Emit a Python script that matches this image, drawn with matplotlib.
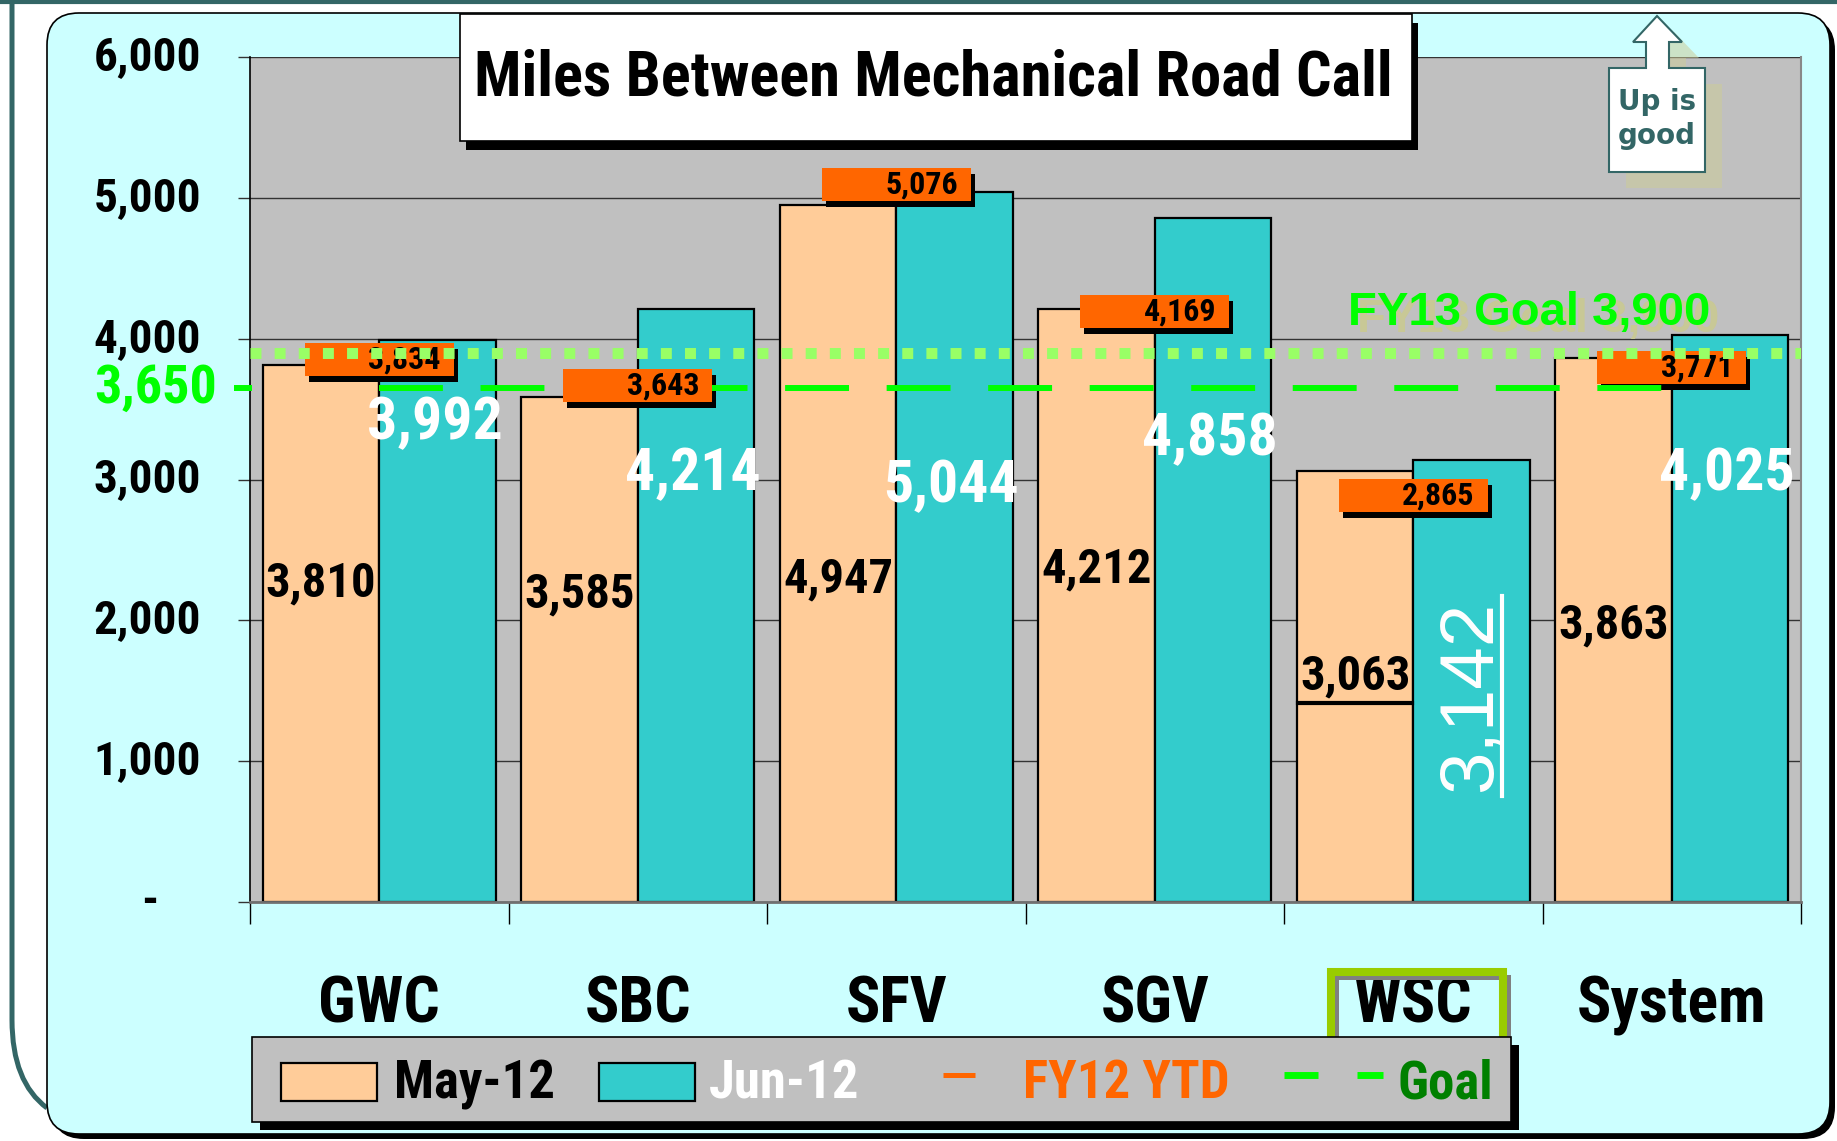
import matplotlib
matplotlib.use('Agg')
import matplotlib.pyplot as plt
import matplotlib.patches as mpatches
import matplotlib.transforms as mtransforms
from matplotlib.path import Path
import numpy as np

W, H = 1837, 1141

categories = ['GWC', 'SBC', 'SFV', 'SGV', 'WSC', 'System']
may_12 = [3810, 3585, 4947, 4212, 3063, 3863]
jun_12 = [3992, 4214, 5044, 4858, 3142, 4025]
fy12_ytd = [3834, 3643, 5076, 4169, 2865, 3771]
goal = [3650, 3650, 3650, 3650, 3650, 3650]
fy13_goal = 3900
yticks = [0, 1000, 2000, 3000, 4000, 5000, 6000]
ytick_labels = ['-', '1,000', '2,000', '3,000', '4,000', '5,000', '6,000']

# heights where the data labels sit (value units)
may_label_y = [2260, 2180, 2290, 2360, 1598, 1960]
jun_label_y = [3400, 3037, 2953, 3286, 1463, 3037]

NARROW = dict(family=['Roboto Condensed', 'DejaVu Sans'])
ARIAL = ['Liberation Sans', 'DejaVu Sans']

teal = '#336666'
may_col = '#FFCC99'
jun_col = '#33CCCC'
ytd_col = '#FF6600'
goal_col = '#00FF00'

fig = plt.figure(figsize=(W / 100, H / 100), dpi=100)
fig.patch.set_facecolor('white')
PX = mtransforms.Affine2D().scale(1, -1).translate(0, H)   # pixel coords, y down


def rbox(x0, y0, x1, y1, r, **kw):
    return mpatches.FancyBboxPatch((x0 + r, y0 + r), x1 - x0 - 2 * r, y1 - y0 - 2 * r,
                                   boxstyle=f'round,pad={r},rounding_size={r}',
                                   transform=PX, **kw)


def rect(x0, y0, x1, y1, **kw):
    return mpatches.Rectangle((x0, y0), x1 - x0, y1 - y0, transform=PX, **kw)


# slide border
fig.add_artist(plt.Line2D([0, W], [1.5, 1.5], transform=PX, color=teal, lw=3, zorder=-3))
p = Path([(12, 0), (12, 1020), (12, 1082), (47, 1108)],
         [Path.MOVETO, Path.LINETO, Path.CURVE3, Path.CURVE3])
fig.add_artist(mpatches.PathPatch(p, transform=PX, fill=False, ec=teal, lw=3.6, zorder=-3))

# cyan panel
fig.add_artist(rbox(52, 18, 1835, 1139, 32, fc='black', ec='none', zorder=-2))
fig.add_artist(rbox(47, 13, 1830, 1134, 32, fc='#CCFFFF', ec='black', lw=1.2, zorder=-1))

# main chart
ax = fig.add_axes([250 / W, 1 - 902 / H, (1801 - 250) / W, (902 - 57) / H])
ax.set_facecolor('#C0C0C0')
ax.set_xlim(-0.5, 5.5)
ax.set_ylim(0, 6000)
sx = 1551 / 6.0
sy = 845 / 6000.0

x = np.arange(len(categories))
bw = 0.45
ax.bar(x - bw / 2, may_12, bw, color=may_col, edgecolor='black', linewidth=1.6, zorder=2)
ax.bar(x + bw / 2, jun_12, bw, color=jun_col, edgecolor='black', linewidth=1.6, zorder=2)

ax.set_yticks(yticks)
ax.yaxis.grid(True, color='#333333', lw=1)
ax.set_axisbelow(True)
ax.tick_params(axis='y', direction='out', length=9, width=1, color='#333333', labelleft=False)
ax.set_xticks(x)
ax.set_xticks(np.arange(-0.5, 6, 1), minor=True)
ax.tick_params(axis='x', which='major', length=0, labelbottom=False)
ax.tick_params(axis='x', which='minor', direction='out', length=16, width=1, color='black')
ax.spines['top'].set_visible(False)
ax.spines['left'].set_color('black')
ax.spines['left'].set_linewidth(1.2)
ax.spines['bottom'].set_color('#707070')
ax.spines['bottom'].set_linewidth(2)
ax.spines['right'].set_color('#888888')
ax.spines['right'].set_linewidth(1.5)

tr_left = mtransforms.blended_transform_factory(PX, ax.transData)
tr_bottom = mtransforms.blended_transform_factory(ax.transData, PX)

for v, lab in zip(yticks, ytick_labels):
    if lab == '-':
        ax.text(150, v, lab, transform=tr_left, ha='center', va='center', fontsize=34,
                fontweight='bold', clip_on=False, **NARROW)
    else:
        ax.text(201, v, lab, transform=tr_left, ha='right', va='center', fontsize=34,
                fontweight='bold', clip_on=False, **NARROW)

for i, c in enumerate(categories):
    ax.text(i, 1005, c, transform=tr_bottom, ha='center', va='center', fontsize=46,
            fontweight='bold', clip_on=False, **NARROW)

# goal (dashed) line
ax.plot(x, goal, color=goal_col, lw=4.3, dashes=(10.7, 6.3), zorder=3)
ax.text(217, goal[0], f'{goal[0]:,}', transform=tr_left, ha='right', va='center', fontsize=39,
        fontweight='bold', color=goal_col, clip_on=False, **NARROW)
ax.plot([234, 252], [goal[0], goal[0]], transform=tr_left, color=goal_col, lw=4.3,
        solid_capstyle='butt', clip_on=False, zorder=6)

# FY12 YTD markers
bx_w = 149 / sx
bx_h = 33 / sy
for i, v in enumerate(fy12_ytd):
    yc = v + 3 / sy
    ax.add_patch(mpatches.Rectangle((i - bx_w / 2 + 4 / sx, yc - bx_h / 2 - 6 / sy), bx_w, bx_h,
                                    fc='black', ec='none', zorder=2.5))
    ax.add_patch(mpatches.Rectangle((i - bx_w / 2, yc - bx_h / 2), bx_w, bx_h,
                                    fc=ytd_col, ec='none', zorder=5))
    ax.text(i + bx_w / 2 - 13 / sx, yc, f'{v:,}', ha='right', va='center', fontsize=23,
            fontweight='bold', zorder=6, **NARROW)

# FY13 goal dotted line
ax.plot([-0.5, 5.5], [fy13_goal, fy13_goal], color='#99FF66', lw=7.9, dashes=(1, 1.2), zorder=7)
ax.text(1538, 320, f'FY13 Goal {fy13_goal:,}', transform=PX, ha='center', va='center',
        fontsize=34, fontweight='bold', color='#C8C896', family=ARIAL, zorder=7.5)
ax.text(1529, 313, f'FY13 Goal {fy13_goal:,}', transform=PX, ha='center', va='center',
        fontsize=34, fontweight='bold', color=goal_col, family=ARIAL, zorder=8)

# data labels
under = []
for i, v in enumerate(may_12):
    t = ax.text(i - bw / 2, may_label_y[i], f'{v:,}', ha='center', va='center', fontsize=35,
                fontweight='bold', zorder=4, **NARROW)
    if categories[i] == 'WSC':
        under.append((t, 'h'))
for i, v in enumerate(jun_12):
    if categories[i] == 'WSC':
        t = ax.text(i + bw / 2, jun_label_y[i], f'{v:,}', ha='center', va='center', fontsize=55,
                    rotation=90, color='white', family=ARIAL, zorder=4)
        under.append((t, 'v'))
    else:
        ax.text(i + bw / 2 - 3 / sx, jun_label_y[i], f'{v:,}', ha='center', va='center',
                fontsize=43, fontweight='bold', color='white', zorder=4, **NARROW)

# title box
fig.add_artist(rect(466, 23, 1418, 150, fc='black', ec='none', zorder=4))
fig.add_artist(rect(460, 14, 1412, 141, fc='white', ec='black', lw=1.2, zorder=4.1))
fig.text(933, 78, 'Miles Between Mechanical Road Call', transform=PX, ha='center', va='center',
         fontsize=45, fontweight='bold', zorder=4.2, **NARROW)

# "Up is good" arrow
arrow = [(1657, 16), (1682, 42), (1669, 42), (1669, 68), (1705, 68), (1705, 172),
         (1609, 172), (1609, 68), (1646, 68), (1646, 42), (1633, 42)]
shadow = [(a + 17, b + 16) for a, b in arrow]
fig.add_artist(mpatches.Polygon(shadow, closed=True, transform=PX, fc='#CCCC99', ec='none',
                                alpha=0.55, zorder=4))
fig.add_artist(mpatches.Polygon(arrow, closed=True, transform=PX, fc='white', ec=teal, lw=1.5,
                                zorder=4.1))
fig.text(1657, 119, 'Up is\ngood', transform=PX, ha='center', va='center', fontsize=20,
         fontweight='bold', color=teal, family='DejaVu Sans', linespacing=1.3, zorder=4.2)

# WSC highlight
fig.add_artist(rect(1336, 977, 1508, 1048, fill=False, ec='#808080', lw=3.6, zorder=4))
fig.add_artist(rect(1331, 972, 1503, 1043, fill=False, ec='#99CC00', lw=5.8, zorder=4.1))

# legend
fig.add_artist(rect(260, 1045, 1519, 1130, fc='black', ec='none', zorder=4))
fig.add_artist(rect(252, 1037, 1511, 1122, fc='#C0C0C0', ec='black', lw=1.2, zorder=4.1))
fig.add_artist(rect(281, 1063, 377, 1101, fc=may_col, ec='black', lw=1.6, zorder=4.2))
fig.add_artist(rect(599, 1063, 695, 1101, fc=jun_col, ec='black', lw=1.6, zorder=4.2))
fig.add_artist(plt.Line2D([943, 975], [1075, 1075], transform=PX, color=ytd_col, lw=3.6,
                          solid_capstyle='butt', zorder=4.2))
fig.add_artist(plt.Line2D([1284, 1318], [1075, 1075], transform=PX, color=goal_col, lw=5,
                          solid_capstyle='butt', zorder=4.2))
fig.add_artist(plt.Line2D([1357, 1383], [1075, 1075], transform=PX, color=goal_col, lw=5,
                          solid_capstyle='butt', zorder=4.2))
for xx, lab, col in [(394, 'May-12', 'black'), (709, 'Jun-12', 'white'),
                     (1023, 'FY12 YTD', ytd_col), (1398, 'Goal', '#008000')]:
    fig.text(xx, 1084, lab, transform=PX, ha='left', va='center', fontsize=38,
             fontweight='bold', color=col, zorder=4.3, **NARROW)

# underlines for WSC values
fig.canvas.draw()
r = fig.canvas.get_renderer()
for t, kind in under:
    bb = t.get_window_extent(r)
    if kind == 'h':
        yy = H - bb.y0 + 3
        fig.add_artist(plt.Line2D([bb.x0 - 2, bb.x1 + 2], [yy, yy], transform=PX, color='black',
                                  lw=3, zorder=4))
    else:
        xx = bb.x1 - 5
        fig.add_artist(plt.Line2D([xx, xx], [H - bb.y1 - 4, H - bb.y0 + 4], transform=PX,
                                  color='white', lw=3, zorder=4))

fig.savefig('out.png', dpi=100)
